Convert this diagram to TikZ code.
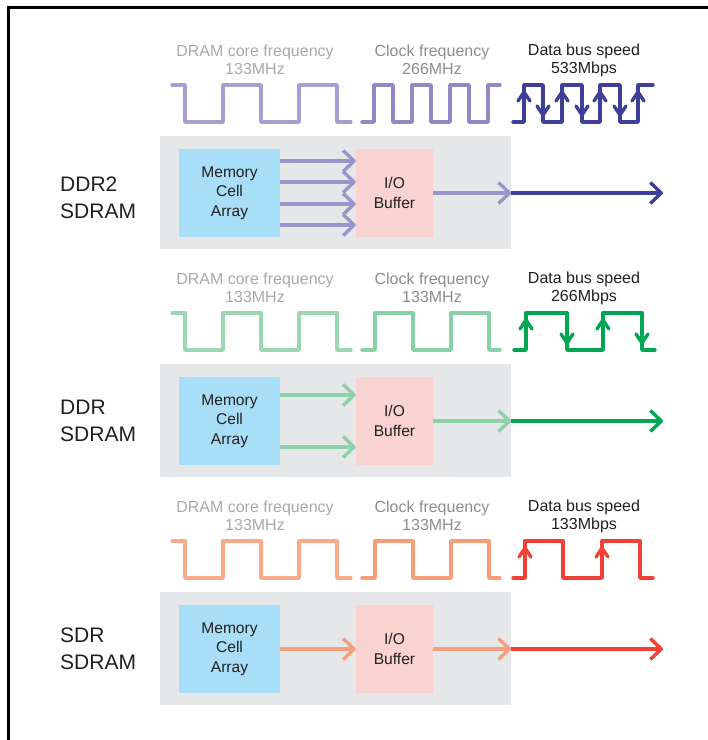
\documentclass[tikz,border=0pt]{standalone}
\usepackage{fontspec}
\setmainfont{Liberation Sans}
\usetikzlibrary{arrows.meta}
\definecolor{boxgray}{HTML}{E6E7E8}
\definecolor{cellblue}{HTML}{A9DEF8}
\definecolor{iopink}{HTML}{F9D3D2}
\definecolor{txtdark}{HTML}{231F20}
\definecolor{hdrlight}{HTML}{A7A9AC}
\definecolor{hdrmid}{HTML}{8A8C8E}
\definecolor{pcore}{HTML}{A69ED2}
\definecolor{pclk}{HTML}{9089C5}
\definecolor{parr}{HTML}{9C94CD}
\definecolor{pdata}{HTML}{3D3F98}
\definecolor{gcore}{HTML}{9AD7B2}
\definecolor{gclk}{HTML}{88D0A6}
\definecolor{garr}{HTML}{8ED1A8}
\definecolor{gdata}{HTML}{00A651}
\definecolor{rcore}{HTML}{F9AA8C}
\definecolor{rclk}{HTML}{F89C7A}
\definecolor{rarr}{HTML}{F89E7E}
\definecolor{rdata}{HTML}{EF4136}
\begin{document}
\begin{tikzpicture}[x=1pt,y=-1pt,
  graybox/.style={fill=boxgray,draw=none,minimum width=351pt,minimum height=113pt,inner sep=0pt},
  cellbox/.style={fill=cellblue,draw=none,minimum width=101pt,minimum height=88pt,inner sep=0pt,align=center,text=txtdark,font=\fontsize{15.6}{19.5}\selectfont},
  iobox/.style={fill=iopink,draw=none,minimum width=77pt,minimum height=88pt,inner sep=0pt,align=center,text=txtdark,font=\fontsize{15.6}{19.5}\selectfont},
  hdr/.style={align=center,inner sep=0pt,font=\fontsize{16}{18}\selectfont},
  lbl/.style={align=left,anchor=west,inner sep=0pt,text=txtdark,font=\fontsize{21}{27}\selectfont},
  wave/.style={line width=3.4pt,line join=round,line cap=round},
  arr/.style={line width=3.4pt,-{Straight Barb[length=11pt,width=21pt,line join=round]}},
]
\useasboundingbox (0,0) rectangle (708,740);
\draw[line width=2.6pt] (8.5,741) -- (8.5,7.5) -- (709,7.5);

% ---------- DDR2 ----------
\node[hdr,text=hdrlight] (h1a) at (255,60) {DRAM core frequency\\133MHz};
\node[hdr,text=hdrmid] (h1b) at (432,60) {Clock frequency\\266MHz};
\node[hdr,text=txtdark] (h1c) at (584,60) {Data bus speed\\533Mbps};
\draw[wave,pcore] (172,85)--(185,85)--(185,122)--(223,122)--(223,85)--(261,85)--(261,122)--(299,122)--(299,85)--(337,85)--(337,122)--(351,122);
\draw[wave,pclk] (362,122)--(374,122)--(374,85)--(393,85)--(393,122)--(412,122)--(412,85)--(431,85)--(431,122)--(450,122)--(450,85)--(469,85)--(469,122)--(488,122)--(488,85)--(500,85);
\draw[wave,pdata] (513,122)--(524,122)--(524,85)--(543,85)--(543,122)--(562,122)--(562,85)--(582,85)--(582,122)--(600,122)--(600,85)--(620,85)--(620,122)--(638,122)--(638,85)--(653,85);
\foreach \x in {524,562,600,638} \draw[wave,pdata] (\x-6,101)--(\x,92)--(\x+6,101);
\foreach \x in {543,582,620} \draw[wave,pdata] (\x-6,106)--(\x,115)--(\x+6,106);
\node[graybox] (g1) at (335.5,192.5) {};
\node[cellbox] (m1) at (229.5,193) {Memory\\Cell\\Array};
\node[iobox] (b1) at (394.5,193) {I/O\\Buffer};
\node[lbl] (l1) at (60,198) {DDR2\\SDRAM};
\foreach \d in {32,11,-11,-32} \draw[arr,parr] ([yshift=\d pt]m1.east) -- ([yshift=\d pt]b1.west);
\coordinate (j1) at (b1.east -| g1.east);
\coordinate (e1) at (663,193);
\draw[arr,parr] (b1.east) -- (j1);
\draw[arr,pdata] (j1) -- (e1);

% ---------- DDR ----------
\begin{scope}[shift={(0,228)}]
\node[hdr,text=hdrlight] (h2a) at (255,60) {DRAM core frequency\\133MHz};
\node[hdr,text=hdrmid] (h2b) at (432,60) {Clock frequency\\133MHz};
\node[hdr,text=txtdark] (h2c) at (584,60) {Data bus speed\\266Mbps};
\draw[wave,gcore] (172,85)--(185,85)--(185,122)--(223,122)--(223,85)--(261,85)--(261,122)--(299,122)--(299,85)--(337,85)--(337,122)--(351,122);
\draw[wave,gclk] (362,122)--(375,122)--(375,85)--(413,85)--(413,122)--(451,122)--(451,85)--(489,85)--(489,122)--(500,122);
\draw[wave,gdata] (514,122)--(526,122)--(526,85)--(567,85)--(567,122)--(603,122)--(603,85)--(642,85)--(642,122)--(655,122);
\foreach \x in {526,603} \draw[wave,gdata] (\x-6,101)--(\x,92)--(\x+6,101);
\foreach \x in {567,642} \draw[wave,gdata] (\x-6,106)--(\x,115)--(\x+6,106);
\node[graybox] (g2) at (335.5,192.5) {};
\node[cellbox] (m2) at (229.5,193) {Memory\\Cell\\Array};
\node[iobox] (b2) at (394.5,193) {I/O\\Buffer};
\node[lbl] (l2) at (60,193) {DDR\\SDRAM};
\foreach \d in {26,-26} \draw[arr,garr] ([yshift=\d pt]m2.east) -- ([yshift=\d pt]b2.west);
\coordinate (j2) at (b2.east -| g2.east);
\coordinate (e2) at (663,193);
\draw[arr,garr] (b2.east) -- (j2);
\draw[arr,gdata] (j2) -- (e2);
\end{scope}

% ---------- SDR ----------
\begin{scope}[shift={(0,456)}]
\node[hdr,text=hdrlight] (h3a) at (255,60) {DRAM core frequency\\133MHz};
\node[hdr,text=hdrmid] (h3b) at (432,60) {Clock frequency\\133MHz};
\node[hdr,text=txtdark] (h3c) at (584,60) {Data bus speed\\133Mbps};
\draw[wave,rcore] (172,85)--(185,85)--(185,122)--(223,122)--(223,85)--(261,85)--(261,122)--(299,122)--(299,85)--(337,85)--(337,122)--(351,122);
\draw[wave,rclk] (362,122)--(375,122)--(375,85)--(413,85)--(413,122)--(451,122)--(451,85)--(489,85)--(489,122)--(500,122);
\draw[wave,rdata] (513,122)--(525,122)--(525,85)--(563,85)--(563,122)--(602,122)--(602,85)--(640,85)--(640,122)--(653,122);
\foreach \x in {525,602} \draw[wave,rdata] (\x-6,101)--(\x,92)--(\x+6,101);
\node[graybox] (g3) at (335.5,192.5) {};
\node[cellbox] (m3) at (229.5,193) {Memory\\Cell\\Array};
\node[iobox] (b3) at (394.5,193) {I/O\\Buffer};
\node[lbl] (l3) at (60,193) {SDR\\SDRAM};
\draw[arr,rarr] (m3) -- (b3);
\coordinate (j3) at (b3.east -| g3.east);
\coordinate (e3) at (663,193);
\draw[arr,rarr] (b3.east) -- (j3);
\draw[arr,rdata] (j3) -- (e3);
\end{scope}
\end{tikzpicture}
\end{document}
